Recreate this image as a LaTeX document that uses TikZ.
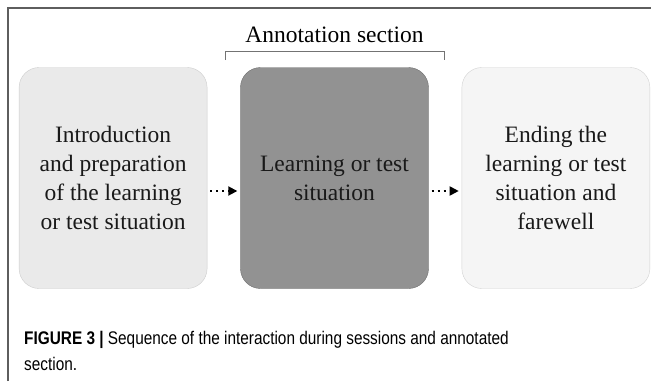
\documentclass[tikz,border=0pt]{standalone}
\usepackage{fontspec}
\setmainfont{Liberation Serif}
\newfontfamily\capfont[FakeStretch=0.84]{Liberation Sans}
\usetikzlibrary{arrows.meta,positioning}

\definecolor{introfill}{HTML}{EAEAEA}
\definecolor{introline}{HTML}{CDCDCD}
\definecolor{taskfill}{HTML}{929292}
\definecolor{taskline}{HTML}{6C6C6C}
\definecolor{endfill}{HTML}{F5F5F5}
\definecolor{endline}{HTML}{D2D2D2}
\definecolor{frameline}{HTML}{5E5E5E}

\tikzset{
    stage/.style={draw,rounded corners=20pt,minimum width=188pt,minimum height=221pt,
        align=center,inner sep=0pt,text=black!90,
        font=\fontsize{23.5}{29}\selectfont},
    flow/.style={line width=1.8pt,dash pattern=on 1.8pt off 4.2pt,
        -{Triangle[length=9pt,width=9pt]},shorten <=3pt,shorten >=3pt},
    bracket/.style={draw=black!55,line width=0.9pt},
    frame/.style={draw=frameline,line width=1.6pt}
}

\begin{document}
\begin{tikzpicture}[x=1pt,y=-1pt]
        \useasboundingbox (0,0) rectangle (651,381);
        \draw [frame] (8,381) -- (8,8) -- (651,8);
        \matrix [column sep=33pt,nodes=stage] at (334.5,178) {
            \node [fill=introfill,draw=introline] (intro) {Introduction\\and preparation\\of the learning\\or test situation}; &
            \node [fill=taskfill,draw=taskline] (task) {Learning or test\\situation}; &
            \node [fill=endfill,draw=endline] (ending) {Ending the\\learning or test\\situation and\\farewell}; \\
        };
        \draw [flow] ([yshift=-13pt]intro.east) -- ([yshift=-13pt]task.west);
        \draw [flow] ([yshift=-13pt]task.east) -- ([yshift=-13pt]ending.west);
        % annotated part
        \node [anchor=base,font=\fontsize{23.5}{29}\selectfont] (anno) at (334.5,42) {Annotation section};
        \coordinate (bl) at (225,60);
        \coordinate (br) at (444,60);
        \draw [bracket] (bl) -- ++(0,-9) -| (br);
        \node [anchor=base west,align=left,inner sep=0pt,
            font=\capfont\fontsize{18.3}{26}\selectfont] (caption) at (24,370)
            {\textbf{FIGURE 3 |} Sequence of the interaction during sessions and annotated\\section.};
    \end{tikzpicture}
\end{document}
